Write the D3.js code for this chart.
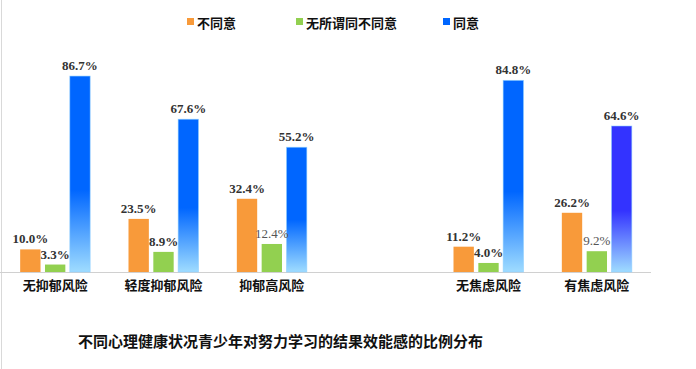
<!DOCTYPE html>
<html>
<head>
<meta charset="utf-8">
<script src="https://cdn.jsdelivr.net/npm/d3@7"></script>
<style>
  body { margin: 0; background: #fff; }
  svg { display: block; }
</style>
</head>
<body>
<svg width="696" height="369"></svg>
<script>
const width = 696;
const height = 369;

const categories = ["无抑郁风险", "轻度抑郁风险", "抑郁高风险", "", "无焦虑风险", "有焦虑风险"];
const series = ["不同意", "无所谓同不同意", "同意"];
const disagree = [10.0, 23.5, 32.4, null, 11.2, 26.2];
const neutral = [3.3, 8.9, 12.4, null, 4.0, 9.2];
const agree = [86.7, 67.6, 55.2, null, 84.8, 64.6];
const title = "不同心理健康状况青少年对努力学习的结果效能感的比例分布";

// labels drawn in plain weight in the original
const plainLabels = ["抑郁高风险|无所谓同不同意", "有焦虑风险|无所谓同不同意"];

const orange = "#f89a3a";
const green = "#92d050";
const base_y = 272;

let svg = d3.select("svg");

// gradients for the blue bars
let defs = svg.append("defs");
function AddGradient(id, top, light) {
  let g = defs.append("linearGradient")
    .attr("id", id)
    .attr("x1", 0).attr("y1", 0).attr("x2", 0).attr("y2", 1);
  g.append("stop").attr("offset", "0%").attr("stop-color", top);
  g.append("stop").attr("offset", "58%").attr("stop-color", top);
  g.append("stop").attr("offset", "100%").attr("stop-color", light);
}
AddGradient("blueGrad", "#0066ff", "#9fdcff");
AddGradient("purpleGrad", "#3333ff", "#9fdcff");

const x = d3.scaleBand().domain(categories.map((c, i) => i)).range([1, 651]).padding(0);
const xSub = d3.scaleBand().domain(series)
  .range([x.bandwidth() / 2 - 35, x.bandwidth() / 2 + 35]).paddingInner(0.18);
const y = d3.scaleLinear().domain([0, 100]).range([base_y, base_y - 226]);

// left border & baseline
svg.append("line")
  .attr("x1", 1.5).attr("x2", 1.5).attr("y1", 0).attr("y2", height)
  .attr("stroke", "#d9d9d9");
svg.append("line")
  .attr("x1", 0).attr("x2", 651).attr("y1", base_y + 0.5).attr("y2", base_y + 0.5)
  .attr("stroke", "#d0d0d0");

const rows = [];
categories.forEach((c, i) => {
  if (disagree[i] == null) return;
  rows.push({ i, cat: c, s: series[0], v: disagree[i] });
  rows.push({ i, cat: c, s: series[1], v: neutral[i] });
  rows.push({ i, cat: c, s: series[2], v: agree[i] });
});

function FillFor(d) {
  if (d.s === series[0]) return orange;
  if (d.s === series[1]) return green;
  return d.cat === "有焦虑风险" ? "url(#purpleGrad)" : "url(#blueGrad)";
}

svg.append("g")
  .selectAll("rect")
  .data(rows)
  .join("rect")
  .attr("x", d => x(d.i) + xSub(d.s))
  .attr("y", d => y(d.v))
  .attr("width", xSub.bandwidth())
  .attr("height", d => y(0) - y(d.v))
  .attr("fill", FillFor)
  .attr("stroke", d => d.s === series[2] ? "#8fd0ff" : "none")
  .attr("stroke-width", 0.8)
  .attr("stroke-opacity", 0.7);

// value labels
svg.append("g")
  .selectAll("text")
  .data(rows)
  .join("text")
  .attr("x", d => x(d.i) + xSub(d.s) + xSub.bandwidth() / 2)
  .attr("y", d => y(d.v) - 6)
  .attr("text-anchor", "middle")
  .style("font-family", "'Liberation Serif', 'DejaVu Serif', serif")
  .style("font-size", "13px")
  .style("font-weight", d => plainLabels.includes(d.cat + "|" + d.s) ? "normal" : "bold")
  .attr("fill", d => plainLabels.includes(d.cat + "|" + d.s) ? "#555" : "#333")
  .text(d => d.v.toFixed(1) + "%");

// category axis
const xAxis = svg.append("g")
  .attr("transform", `translate(0,${base_y})`)
  .call(d3.axisBottom(x).tickSize(0).tickPadding(9).tickFormat(i => categories[i]));
xAxis.select(".domain").remove();
xAxis.selectAll("text")
  .attr("fill", "#111")
  .style("font-family", "'Noto Sans CJK SC', sans-serif")
  .style("font-size", "13px")
  .style("font-weight", "bold");

// legend
const legendX = [187, 296, 443];
const legendColors = [orange, green, "#0066ff"];
const legend = svg.append("g");
series.forEach((s, k) => {
  legend.append("rect")
    .attr("x", legendX[k]).attr("y", 18)
    .attr("width", 7).attr("height", 7)
    .attr("fill", legendColors[k]);
  legend.append("text")
    .attr("x", legendX[k] + 10).attr("y", 22)
    .attr("dominant-baseline", "central")
    .style("font-family", "'Noto Sans CJK SC', sans-serif")
    .style("font-size", "13px")
    .style("font-weight", "bold")
    .attr("fill", "#111")
    .text(s);
});

// title
svg.append("text")
  .attr("x", 78).attr("y", 340)
  .attr("dominant-baseline", "central")
  .style("font-family", "'Noto Sans CJK SC', sans-serif")
  .style("font-size", "15px")
  .style("font-weight", "bold")
  .attr("fill", "#111")
  .text(title);
</script>
</body>
</html>
